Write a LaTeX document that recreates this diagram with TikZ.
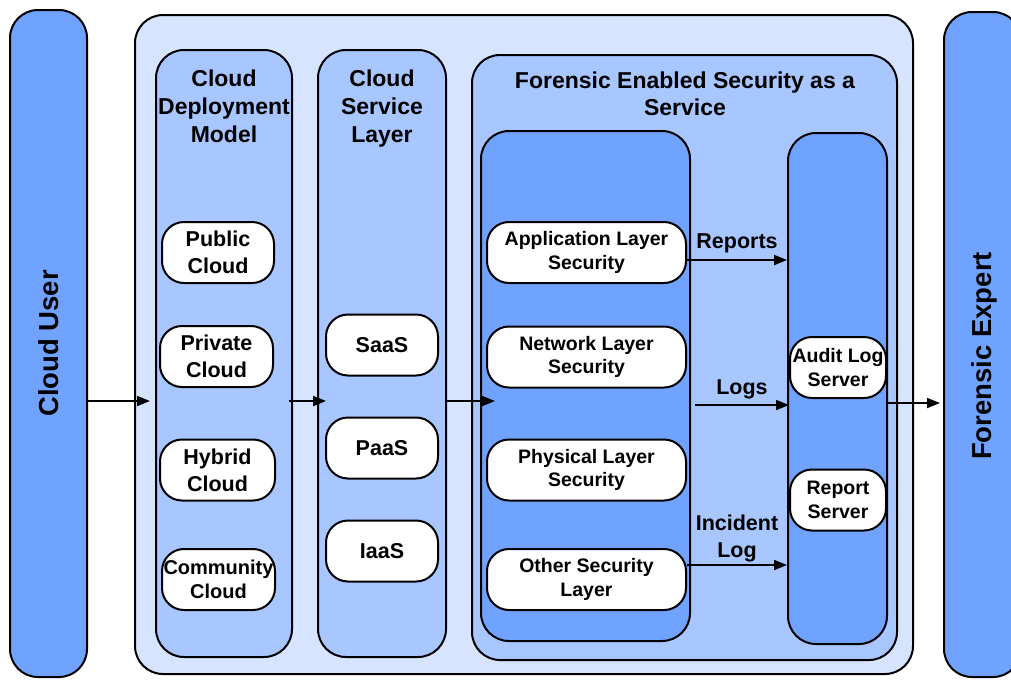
\documentclass[tikz,border=0pt]{standalone}
\usepackage{fontspec}
\setmainfont{Liberation Sans}
\usetikzlibrary{arrows.meta}
\definecolor{boxdark}{RGB}{112,163,255}
\definecolor{boxmid}{RGB}{168,198,255}
\definecolor{boxlight}{RGB}{214,228,255}
\tikzset{
  panel/.style={draw, line width=2pt, rounded corners=28pt, inner sep=0pt},
  pill/.style={draw, line width=2pt, fill=white, rounded corners=22pt, align=center, inner sep=0pt, minimum height=61},
  cloudtxt/.style={font=\bfseries\fontsize{21.5}{27}\selectfont},
  sectxt/.style={font=\bfseries\fontsize{19.5}{23.5}\selectfont},
  ttl/.style={align=center, inner sep=0pt, font=\bfseries\fontsize{23}{28}\selectfont},
  arr/.style={line width=1.8pt, -{Triangle[length=13pt,width=10pt]}}
}
\begin{document}
\begin{tikzpicture}[x=1pt,y=-1pt]
\useasboundingbox (0,0) rectangle (1011,681);
\node[panel, fill=boxdark, minimum width=77, minimum height=667] (user) at (48.5,343.5){};
\node[panel, fill=boxlight, minimum width=778, minimum height=659] (outer) at (524,344.5){};
\node[panel, fill=boxdark, minimum width=77, minimum height=665] (expert) at (982.5,344.5){};
\node[panel, fill=boxmid, minimum width=136, minimum height=607] (cdm) at (224,353.5){};
\node[panel, fill=boxmid, minimum width=128, minimum height=607] (csl) at (382,353.5){};
\node[panel, fill=boxmid, minimum width=425, minimum height=605] (fess) at (684.5,357.5){};
\node[panel, fill=boxdark, minimum width=209, minimum height=510] (sec) at (585.5,386){};
\node[panel, fill=boxdark, minimum width=99, minimum height=511] (srv) at (837.5,388.5){};
\node[ttl, rotate=90, font=\bfseries\fontsize{27.5}{33}\selectfont] (usertxt) at (user) {Cloud User};
\node[ttl, rotate=90, font=\bfseries\fontsize{27.5}{33}\selectfont] (experttxt) at (984.5,356) {Forensic Expert};
\node[ttl, anchor=north] (cdmtxt) at (224,70) {Cloud\\Deployment\\Model};
\node[ttl, anchor=north] (csltxt) at (382,70) {Cloud\\Service\\Layer};
\node[ttl, font=\bfseries\fontsize{23}{27}\selectfont] (fesstxt) at (685,93.5) {Forensic Enabled Security as a\\Service};
% deployment models
\node[pill, cloudtxt, minimum width=112] (public) at (218,252.5){Public\\Cloud};
\node[pill, cloudtxt, minimum width=113] (private) at (216.5,356.5){Private\\Cloud};
\node[pill, cloudtxt, minimum width=115] (hybrid) at (217.5,470){Hybrid\\Cloud};
\node[pill, cloudtxt, minimum width=113, font=\bfseries\fontsize{20}{24}\selectfont] (community) at (218.5,579.5){Community\\Cloud};
% service layer
\node[pill, cloudtxt, minimum width=112] (saas) at (382,345){SaaS};
\node[pill, cloudtxt, minimum width=112] (paas) at (382,448){PaaS};
\node[pill, cloudtxt, minimum width=112] (iaas) at (382,551){IaaS};
% security layers
\node[pill, sectxt, minimum width=199] (appsec) at (586.5,252.5){Application Layer\\Security};
\node[pill, sectxt, minimum width=199] (netsec) at (586.5,357){Network Layer\\Security};
\node[pill, sectxt, minimum width=199] (physsec) at (586.5,470){Physical Layer\\Security};
\node[pill, sectxt, minimum width=199] (othersec) at (586.5,579.5){Other Security\\Layer};
% servers
\node[pill, sectxt, minimum width=96] (audit) at (838,367.5){Audit Log\\Server};
\node[pill, sectxt, minimum width=96] (report) at (838,500){Report\\Server};
\coordinate (flow) at (0,401);
\coordinate (logrow) at (0,405);
\draw[arr](user.east |- flow) -- ([xshift=-5]cdm.west |- flow);
\draw[arr]([xshift=-4]cdm.east |- flow) -- ([xshift=9]csl.west |- flow);
\draw[arr](csl.east |- flow) -- ([xshift=15]sec.west |- flow);
\draw[arr]([yshift=-7.5]appsec.east) -- ([yshift=-7.5]appsec.east -| srv.west) node[midway, above=3pt, cloudtxt] (reports) {Reports};
\draw[arr]([xshift=4]sec.east |- logrow) -- ([xshift=2]srv.west |- logrow) node[midway, above=1.5pt, cloudtxt] (logs) {Logs};
\draw[arr]([yshift=14.5]othersec.east) -- ([yshift=14.5]othersec.east -| srv.west) node[midway, above=-1pt, cloudtxt, align=center] (incident) {Incident\\Log};
\draw[arr]([yshift=-35.5]audit.east -| srv.east) -- ([xshift=-3]expert.west |- 0,403);
\end{tikzpicture}
\end{document}
